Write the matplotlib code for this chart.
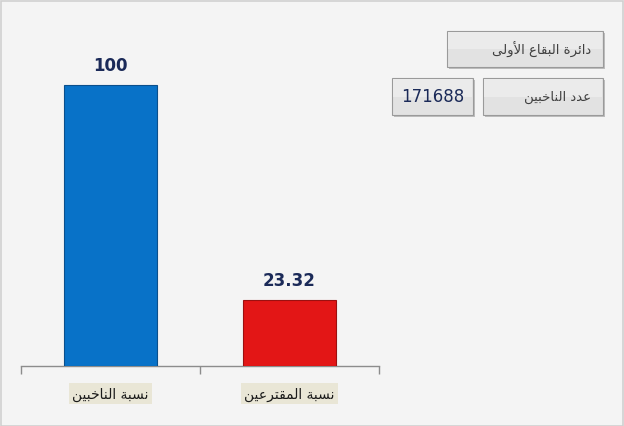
import matplotlib
matplotlib.use("Agg")
import matplotlib.pyplot as plt
from matplotlib.patches import Rectangle, FancyBboxPatch

# ---- data ----
categories = ['نسبة الناخبين', 'نسبة المقترعين']
values = [100, 23.32]
value_labels = ['100', '23.32']
district = 'دائرة البقاع الأولى'
voters_label = 'عدد الناخبين'
voters_count = '171688'
bar_colors = ['#0872c8', '#e31616']
bar_edges = ['#0a4f8c', '#9c1010']

# ---- minimal Arabic shaping (presentation forms + visual order) ----
FORMS = {  # iso, fin, ini, med
    'ا': ('\uFE8D', '\uFE8E', None, None),
    'أ': ('\uFE83', '\uFE84', None, None),
    'ب': ('\uFE8F', '\uFE90', '\uFE91', '\uFE92'),
    'ة': ('\uFE93', '\uFE94', None, None),
    'ت': ('\uFE95', '\uFE96', '\uFE97', '\uFE98'),
    'خ': ('\uFEA5', '\uFEA6', '\uFEA7', '\uFEA8'),
    'د': ('\uFEA9', '\uFEAA', None, None),
    'ر': ('\uFEAD', '\uFEAE', None, None),
    'س': ('\uFEB1', '\uFEB2', '\uFEB3', '\uFEB4'),
    'ع': ('\uFEC9', '\uFECA', '\uFECB', '\uFECC'),
    'ق': ('\uFED5', '\uFED6', '\uFED7', '\uFED8'),
    'ل': ('\uFEDD', '\uFEDE', '\uFEDF', '\uFEE0'),
    'م': ('\uFEE1', '\uFEE2', '\uFEE3', '\uFEE4'),
    'ن': ('\uFEE5', '\uFEE6', '\uFEE7', '\uFEE8'),
    'و': ('\uFEED', '\uFEEE', None, None),
    'ى': ('\uFEEF', '\uFEF0', None, None),
    'ي': ('\uFEF1', '\uFEF2', '\uFEF3', '\uFEF4'),
    'ئ': ('\uFE89', '\uFE8A', '\uFE8B', '\uFE8C'),
}
LAMALEF = {'ا': ('\uFEFB', '\uFEFC'), 'أ': ('\uFEF7', '\uFEF8')}


def dual(c):
    return c in FORMS and FORMS[c][2] is not None


def joins(c):
    return c in FORMS


def shape(s):
    chars = list(s)
    out = []
    i = 0
    while i < len(chars):
        c = chars[i]
        prev = chars[i - 1] if i > 0 else ''
        nxt = chars[i + 1] if i + 1 < len(chars) else ''
        if c not in FORMS:
            out.append(c)
            i += 1
            continue
        cp = dual(prev) and joins(c)
        if c == 'ل' and nxt in LAMALEF:
            out.append(LAMALEF[nxt][1 if cp else 0])
            i += 2
            continue
        cn = dual(c) and joins(nxt)
        f = FORMS[c]
        if cp and cn:
            out.append(f[3])
        elif cp:
            out.append(f[1])
        elif cn:
            out.append(f[2])
        else:
            out.append(f[0])
        i += 1
    return ''.join(out)[::-1]


plt.rcParams['font.family'] = ['DejaVu Sans']

W, H = 624, 427
fig = plt.figure(figsize=(W / 100, H / 100), dpi=100)
fig.patch.set_facecolor('#f4f4f4')

# outer border
fig.add_artist(Rectangle((0.5 / W, 0.5 / H), (W - 2) / W, (H - 2) / H,
                         transform=fig.transFigure, fill=False,
                         edgecolor='#d0d0d0', linewidth=1.2))


def fx(px):
    return px / W


def fy(py):
    return 1 - py / H


ax = fig.add_axes([fx(21), fy(367), fx(379) - fx(21), fy(30) - fy(367)])
ax.set_facecolor('none')
x = list(range(len(categories)))
ymax = 100 * (367 - 30) / (367 - 86)
ax.set_ylim(0, ymax)
ax.set_xlim(-0.5, len(categories) - 0.5)
ax.bar(x, values, width=0.525, color=bar_colors, edgecolor=bar_edges,
       linewidth=0.8, zorder=3)
for xi, v, lab in zip(x, values, value_labels):
    ax.annotate(lab, (xi, v), xytext=(0, 8), textcoords='offset points',
                ha='center', va='bottom', fontsize=12, fontweight='bold',
                color='#1b2a58')

for s in ['left', 'right', 'top']:
    ax.spines[s].set_visible(False)
ax.spines['bottom'].set_color('#8c8c8c')
ax.spines['bottom'].set_linewidth(1.0)
ax.set_yticks([])
ax.set_xticks([i - 0.5 for i in range(len(categories) + 1)])
ax.set_xticklabels([])
ax.tick_params(axis='x', length=6, color='#8c8c8c', width=1.0, direction='out')

for xi, cat in zip(x, categories):
    ax.annotate(shape(cat), (xi, 0), xytext=(0, -20), textcoords='offset points',
                ha='center', va='center', fontsize=10, color='#1a1a1a',
                bbox=dict(boxstyle='square,pad=0.25', facecolor='#e9e6d6',
                          edgecolor='none'))


def box(x0, y0, x1, y1, text, ha='center', tx=None, color='#404040', size=9.5):
    # shadow
    fig.add_artist(Rectangle((fx(x0 + 2), fy(y1 + 2)), fx(x1 - x0), fy(y0) - fy(y1),
                             transform=fig.transFigure, facecolor='#bdbdbd',
                             edgecolor='none', zorder=1))
    fig.add_artist(Rectangle((fx(x0), fy(y1)), fx(x1 - x0), fy(y0) - fy(y1),
                             transform=fig.transFigure, facecolor='#e2e2e2',
                             edgecolor='#9a9a9a', linewidth=0.8, zorder=2))
    # lighter top half for a gradient feel
    fig.add_artist(Rectangle((fx(x0 + 1), fy((y0 + y1) / 2)), fx(x1 - x0 - 2),
                             fy(y0 + 1) - fy((y0 + y1) / 2),
                             transform=fig.transFigure, facecolor='#ebebeb',
                             edgecolor='none', zorder=2))
    if tx is None:
        tx = (x0 + x1) / 2
    fig.text(fx(tx), fy((y0 + y1) / 2), text, ha=ha, va='center',
             fontsize=size, color=color, zorder=3)


box(447, 32, 603, 68, shape(district), ha='right', tx=591)
box(483, 79, 603, 116, shape(voters_label), ha='right', tx=591)
box(392, 79, 473, 116, voters_count, color='#1b2a58', size=12)

fig.savefig('out.png', dpi=100, facecolor=fig.get_facecolor())
